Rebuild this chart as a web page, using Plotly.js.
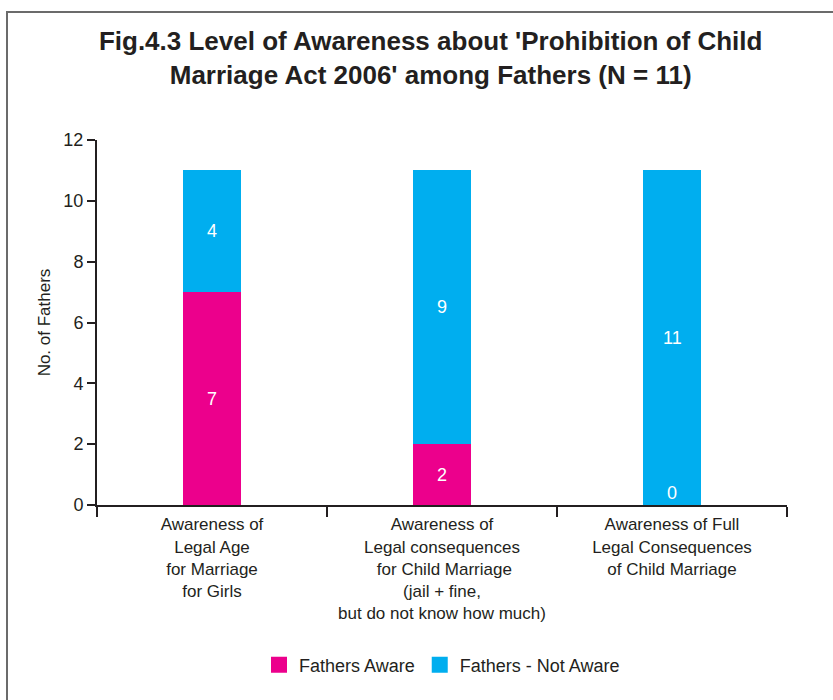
<!DOCTYPE html>
<html>
<head>
<meta charset="utf-8">
<script src="https://cdn.plot.ly/plotly-3.0.1.min.js"></script>
<style>
  html, body { margin: 0; padding: 0; background: #fff; }
  #wrap { position: relative; width: 833px; height: 700px; }
  #frame { position: absolute; left: 6px; top: 11px; right: 0; bottom: 0;
           border-top: 2px solid #6b6b6b; border-left: 2px solid #6b6b6b; pointer-events: none; z-index: 5; }
  #chart { position: absolute; left: 0; top: 0; width: 833px; height: 700px; }
</style>
</head>
<body>
<div id="wrap">
  <div id="chart"></div>
  <div id="frame"></div>
</div>
<script>
// Awareness categories (x axis)
const categories = [
  "Awareness of<br>Legal Age<br>for Marriage<br>for Girls",
  "Awareness of<br>Legal consequences<br> for Child Marriage<br>(jail + fine,<br>but do not know how much)",
  "Awareness of Full<br>Legal Consequences<br>of Child Marriage"
];
// Number of fathers in each group
const fathersAware = [7, 2, 0];
const fathersNotAware = [4, 9, 11];
const seriesNames = ["Fathers Aware", "Fathers - Not Aware"];
const yTicks = [0, 2, 4, 6, 8, 10, 12];

const FONT = "'Liberation Sans', Arial, sans-serif";
const INK = "#231f20";
const MAGENTA = "#EC008C";
const CYAN = "#00AEEF";

const traces = [
  { type: "bar", name: seriesNames[0], x: categories, y: fathersAware,
    marker: { color: MAGENTA }, hoverinfo: "none", showlegend: false },
  { type: "bar", name: seriesNames[1], x: categories, y: fathersNotAware,
    marker: { color: CYAN }, hoverinfo: "none", showlegend: false },
  // legend keys with large square swatches
  { type: "scatter", mode: "markers", name: seriesNames[0], x: [null], y: [null],
    marker: { symbol: "square", size: 16, color: MAGENTA }, hoverinfo: "none" },
  { type: "scatter", mode: "markers", name: seriesNames[1], x: [null], y: [null],
    marker: { symbol: "square", size: 16, color: CYAN }, hoverinfo: "none" }
];

// Value labels centred in each stacked segment
const annotations = [];
const labelFont = { family: FONT, size: 18, color: "#fff" };
categories.forEach((c, i) => {
  const a = fathersAware[i], n = fathersNotAware[i];
  if (a > 0) {
    annotations.push({ x: c, y: a / 2, text: String(a), showarrow: false, font: labelFont });
  } else {
    annotations.push({ x: c, y: 0, yanchor: "bottom", yshift: 0, text: String(a), showarrow: false, font: labelFont });
  }
  annotations.push({ x: c, y: a + n / 2, text: String(n), showarrow: false, font: labelFont });
});

const layout = {
  width: 833, height: 700,
  margin: { l: 97, r: 46, t: 140, b: 195, autoexpand: false },
  paper_bgcolor: "#fff", plot_bgcolor: "#fff",
  barmode: "stack", bargap: 0.75,
  font: { family: FONT, size: 18, color: INK },
  title: {
    text: "<b>Fig.4.3 Level of Awareness about 'Prohibition of Child<br>Marriage Act 2006' among Fathers (N = 11)</b>",
    font: { family: FONT, size: 26, color: INK },
    x: 0.517, xanchor: "center", y: 0.928, yanchor: "top"
  },
  xaxis: {
    type: "category", range: [-0.5, 2.5],
    showline: true, linecolor: INK, linewidth: 2,
    ticks: "outside", tickson: "boundaries", ticklen: 10, tickwidth: 2, tickcolor: INK,
    tickangle: 0, ticklabelstandoff: 3,
    tickfont: { family: FONT, size: 17, color: INK },
    showgrid: false, zeroline: false, fixedrange: true
  },
  yaxis: {
    range: [0, 12], tickvals: yTicks, ticktext: yTicks.map(String),
    showline: true, linecolor: INK, linewidth: 2,
    ticks: "outside", ticklen: 8, tickwidth: 2, tickcolor: INK,
    tickfont: { family: FONT, size: 18, color: INK },
    showgrid: false, zeroline: false, fixedrange: true,
    title: { text: "No. of Fathers", font: { family: FONT, size: 17, color: INK }, standoff: 8 }
  },
  showlegend: true,
  legend: {
    orientation: "h", x: 0.5, xanchor: "center",
    yref: "container", y: 0.05, yanchor: "middle",
    font: { family: FONT, size: 18, color: INK },
    tracegroupgap: 0, traceorder: "normal"
  },
  annotations: annotations
};

Plotly.newPlot("chart", traces, layout, { displayModeBar: false, staticPlot: true });
</script>
</body>
</html>
